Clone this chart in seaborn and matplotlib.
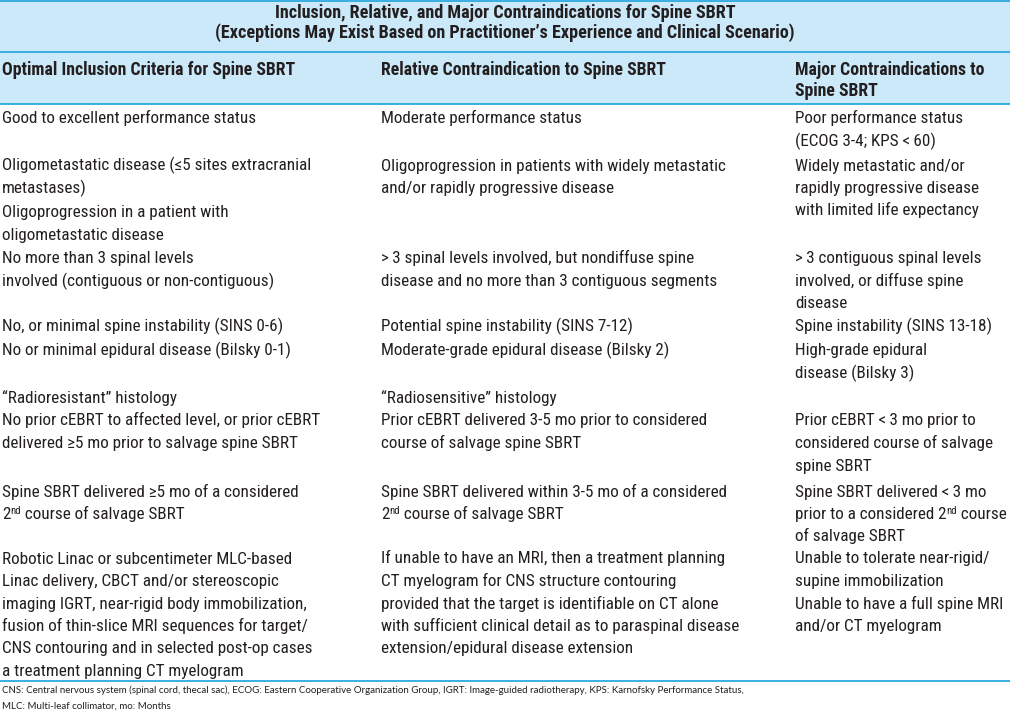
import matplotlib
matplotlib.use("Agg")
import matplotlib.pyplot as plt
import seaborn as sns
from matplotlib import font_manager

sns.set_style("white")
installed = {f.name for f in font_manager.fontManager.ttflist}
body_font = next(f for f in ["Liberation Sans Narrow", "Roboto Condensed",
                             "Liberation Sans", "DejaVu Sans"] if f in installed)
plt.rcParams["font.family"] = [body_font, "DejaVu Sans"]

title_lines = [
    "Inclusion, Relative, and Major Contraindications for Spine SBRT",
    "(Exceptions May Exist Based on Practitioner\u2019s Experience and Clinical Scenario)",
]
headers = [
    ["Optimal Inclusion Criteria for Spine SBRT"],
    ["Relative Contraindication to Spine SBRT"],
    ["Major Contraindications to", "Spine SBRT"],
]

# one entry per row, each cell a list of lines; "^" marks a superscript
inclusion = [
    ["Good to excellent performance status"],
    ["Oligometastatic disease (\u22645 sites extracranial", "metastases)"],
    ["Oligoprogression in a patient with", "oligometastatic disease"],
    ["No more than 3 spinal levels", "involved (contiguous or non-contiguous)"],
    ["No, or minimal spine instability (SINS 0-6)"],
    ["No or minimal epidural disease (Bilsky 0-1)"],
    ["\u201cRadioresistant\u201d histology"],
    ["No prior cEBRT to affected level, or prior cEBRT",
     "delivered \u22655 mo prior to salvage spine SBRT"],
    ["Spine SBRT delivered \u22655 mo of a considered",
     "2^nd^ course of salvage SBRT"],
    ["Robotic Linac or subcentimeter MLC-based",
     "Linac delivery, CBCT and/or stereoscopic",
     "imaging IGRT, near-rigid body immobilization,",
     "fusion of thin-slice MRI sequences for target/",
     "CNS contouring and in selected post-op cases",
     "a treatment planning CT myelogram"],
]
relative = [
    ["Moderate performance status"],
    ["Oligoprogression in patients with widely metastatic",
     "and/or rapidly progressive disease"],
    [],
    [">\u20093 spinal levels involved, but nondiffuse spine",
     "disease and no more than 3 contiguous segments"],
    ["Potential spine instability (SINS 7-12)"],
    ["Moderate-grade epidural disease (Bilsky 2)"],
    ["\u201cRadiosensitive\u201d histology"],
    ["Prior cEBRT delivered 3-5 mo prior to considered",
     "course of salvage spine SBRT"],
    ["Spine SBRT delivered within 3-5 mo of a considered",
     "2^nd^ course of salvage SBRT"],
    ["If unable to have an MRI, then a treatment planning",
     "CT myelogram for CNS structure contouring",
     "provided that the target is identifiable on CT alone",
     "with sufficient clinical detail as to paraspinal disease",
     "extension/epidural disease extension"],
]
major = [
    ["Poor performance status", "(ECOG 3-4; KPS <\u200960)"],
    ["Widely metastatic and/or", "rapidly progressive disease",
     "with limited life expectancy"],
    [],
    [">\u20093 contiguous spinal levels", "involved, or diffuse spine", "disease"],
    ["Spine instability (SINS 13-18)"],
    ["High-grade epidural", "disease (Bilsky 3)"],
    [],
    ["Prior cEBRT <\u20093 mo prior to", "considered course of salvage",
     "spine SBRT"],
    ["Spine SBRT delivered <\u20093 mo",
     "prior to a considered 2^nd^ course",
     "of salvage SBRT"],
    ["Unable to tolerate near-rigid/", "supine immobilization",
     "Unable to have a full spine MRI", "and/or CT myelogram"],
]
footnote = [
    "CNS: Central nervous system (spinal cord, thecal sac), ECOG: Eastern Cooperative "
    "Organization Group, IGRT: Image-guided radiotherapy, KPS: Karnofsky Performance Status,",
    "MLC: Multi-leaf collimator, mo: Months",
]

# layout (pixels)
W, H = 1010, 714
col_x = [2, 381, 795]
row_top = [118, 165, 212, 258, 326, 350, 398, 420, 491, 558]
step = 22.5
blue = "#2aa8df"
fill = "#cbe9f8"
ink = "#231f20"
foot_family = ["Lato", "DejaVu Sans"]

fig = plt.figure(figsize=(W / 100, H / 100), dpi=100)
ax = fig.add_axes([0, 0, 1, 1])
ax.set_xlim(0, W)
ax.set_ylim(H, 0)
ax.axis("off")
renderer = fig.canvas.get_renderer()


def fit_size(text, width_px, **kw):
    t = ax.text(0, 0, text, fontsize=10, **kw)
    w = t.get_window_extent(renderer).width
    t.remove()
    return 10 * width_px / w


def body_line(x, y, line, fs):
    # draw pieces left to right; odd pieces are superscripts
    for k, piece in enumerate(line.split("^")):
        if not piece:
            continue
        sup = k % 2 == 1
        t = ax.text(x, y - (5 if sup else 0), piece, va="baseline",
                    fontsize=fs * (0.62 if sup else 1), color=ink)
        x += t.get_window_extent(renderer).width


body_fs = fit_size("Good to excellent performance status", 253)
head_fs = fit_size("Optimal Inclusion Criteria for Spine SBRT", 293, fontweight="bold")
title_fs = fit_size(title_lines[0], 462, fontweight="bold")
foot_fs = fit_size(footnote[0], 748, family=foot_family)

ax.axhspan(1, 104, color=fill, lw=0)
for y in [1, 52, 104, 681]:
    ax.axhline(y, color=blue, lw=1.3)

for i, t in enumerate(title_lines):
    ax.text(W / 2, 13 + 20 * i, t, ha="center", va="center",
            fontsize=title_fs, fontweight="bold", color=ink)

for x, cell in zip(col_x, headers):
    for j, t in enumerate(cell):
        ax.text(x, 70 + 21 * j, t, va="center", fontsize=head_fs,
                fontweight="bold", color=ink)

for x, col in zip(col_x, [inclusion, relative, major]):
    for top, cell in zip(row_top, col):
        for j, t in enumerate(cell):
            body_line(x, top + step * j + 5.5, t, body_fs)

for j, t in enumerate(footnote):
    ax.text(2, 690 + 16 * j, t, va="center", fontsize=foot_fs, color=ink,
            family=foot_family)

fig.savefig("out.png", dpi=100)
